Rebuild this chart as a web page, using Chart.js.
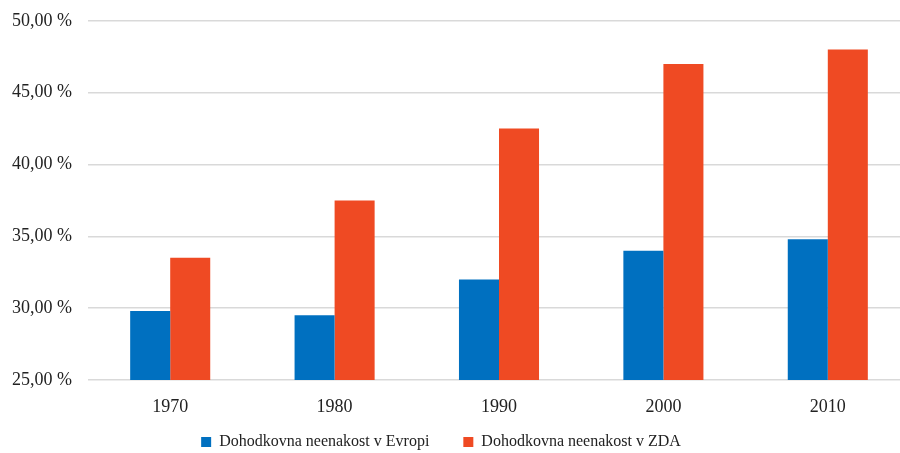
<!DOCTYPE html>
<html lang="sl">
<head>
  <meta charset="UTF-8" />
  <title>Dohodkovna neenakost</title>
  <script src="https://cdn.jsdelivr.net/npm/chart.js@4.4.0/dist/chart.umd.min.js"></script>
  <style>
    html, body { margin: 0; padding: 0; background: #fff; overflow: hidden; }
    .wrap { position: relative; width: 910px; height: 466px; margin-top: -6px; }
  </style>
</head>
<body>
  <div class="wrap"><canvas id="chart"></canvas></div>

  <script>
    // data
    const years = ['1970', '1980', '1990', '2000', '2010'];
    const europe = [29.8, 29.5, 32.0, 34.0, 34.8];
    const usa = [33.5, 37.5, 42.5, 47.0, 48.0];
    const seriesNames = ['Dohodkovna neenakost v Evropi', 'Dohodkovna neenakost v ZDA'];
    const yMin = 25, yMax = 50, yStep = 5;

    Chart.defaults.font.family = '"Liberation Serif", "Times New Roman", serif';
    Chart.defaults.font.size = 18;
    Chart.defaults.color = '#222';

    const defaultLabels = Chart.defaults.plugins.legend.labels.generateLabels;

    new Chart(document.getElementById('chart'), {
      type: 'bar',
      data: {
        labels: years,
        datasets: [
          { label: seriesNames[0], data: europe, backgroundColor: '#0070c0' },
          { label: seriesNames[1], data: usa, backgroundColor: '#ef4a23' }
        ]
      },
      options: {
        responsive: true,
        maintainAspectRatio: false,
        animation: false,
        datasets: { bar: { barPercentage: 1, categoryPercentage: 0.487 } },
        layout: { padding: { top: 6, right: 0, bottom: 0, left: 0 } },
        scales: {
          x: {
            grid: { display: false },
            border: { display: false },
            ticks: { padding: 8 },
            afterFit: s => { s.height = 44; }
          },
          y: {
            min: yMin, max: yMax,
            grid: { color: '#d9d9d9', lineWidth: 1.5, drawTicks: false },
            border: { display: false },
            ticks: {
              stepSize: yStep, padding: 16,
              callback: v => v.toFixed(2).replace('.', ',') + ' %'
            },
            afterFit: s => { s.width = 88; }
          }
        },
        plugins: {
          legend: {
            position: 'bottom',
            labels: {
              font: { size: 16 }, boxWidth: 10, boxHeight: 10, padding: 10,
              // wider gap between entries, and the group sits a bit left of centre
              generateLabels: chart => {
                const items = defaultLabels(chart);
                items[0].text += '      ';
                items[1].text += '       ';
                return items;
              }
            }
          },
          tooltip: { enabled: false }
        }
      }
    });
  </script>
</body>
</html>
